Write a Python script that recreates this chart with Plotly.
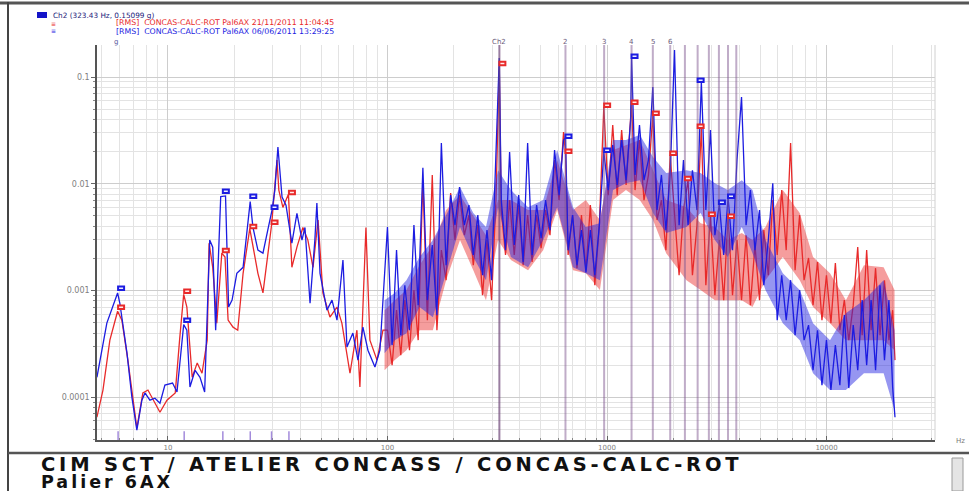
import plotly.graph_objects as go
import numpy as np

# ---------------- data ----------------
freq_blue_low = [4.75, 5.27, 5.9, 6.04, 6.51, 6.85, 7.22, 7.61, 7.86, 8.28, 8.73, 9.2, 9.69, 10.5, 11.0,
                 11.8, 12.2, 12.6, 13.3, 14.0, 14.7, 15.1, 15.5, 16.0, 16.5, 17.4, 18.3, 18.9, 19.6, 20.6,
                 22.0, 23.7, 24.4, 25.7, 27.1, 28.5, 29.8, 30.7, 31.7, 33.1, 34.5, 36.7, 38.7, 40.8, 42.1,
                 44.4, 46.7, 47.7, 49.3, 53.0, 55.9, 58.9, 62.7, 65.4, 69.6, 73.4, 77.3, 81.5, 87.7, 92.4]
amp_blue_low = [0.000154, 0.000495, 0.00095, 0.00076, 0.000259, 0.000101, 0.0000492, 0.000094, 0.00011, 0.000094,
                0.000098, 0.000088, 0.00013, 0.000136, 0.000112, 0.00048, 0.000425, 0.000125, 0.000179, 0.000154,
                0.000112, 0.000495, 0.00297, 0.00255, 0.000425, 0.0076, 0.0077, 0.0007, 0.000813, 0.00145,
                0.00165, 0.0068, 0.0039, 0.00239, 0.00224, 0.00368, 0.00567, 0.00873, 0.0221, 0.0075,
                0.0063, 0.00278, 0.00528, 0.00297, 0.0039, 0.00076, 0.00297, 0.0066, 0.00145, 0.000655,
                0.000813, 0.000528, 0.00193, 0.000296, 0.0004, 0.000223, 0.000454, 0.000276, 0.000192, 0.000276]

freq_red_low = [4.75, 5.06, 5.44, 5.9, 6.17, 6.57, 7.22, 7.69, 8.11, 8.73, 9.2, 9.9, 10.8, 11.3, 11.8,
                12.2, 12.9, 13.6, 14.3, 15.1, 15.4, 16.0, 16.7, 17.6, 18.2, 18.8, 19.8, 20.8, 22.0, 23.6,
                24.4, 25.7, 27.1, 28.5, 29.7, 31.4, 32.0, 33.4, 35.4, 36.7, 38.7, 41.2, 43.4, 45.8, 48.3,
                50.8, 54.7, 58.9, 62.0, 67.5, 72.6, 74.9, 79.8, 83.2, 89.6, 95.4]
amp_red_low = [0.0000651, 0.000117, 0.000343, 0.00064, 0.000528, 0.000223, 0.0000514, 0.00011, 0.000117, 0.000088,
               0.0000725, 0.000094, 0.00011, 0.000343, 0.00092, 0.0007, 0.000154, 0.00021, 0.000168, 0.000343,
               0.00278, 0.00165, 0.000495, 0.00224, 0.00206, 0.000528, 0.000454, 0.000425, 0.00145, 0.0038,
               0.00255, 0.00145, 0.00095, 0.00224, 0.0042, 0.0167, 0.00873, 0.006, 0.008, 0.00165,
               0.00255, 0.0039, 0.00297, 0.00165, 0.00457, 0.00095, 0.000565, 0.0007, 0.000495, 0.000168,
               0.000425, 0.000125, 0.0039, 0.000343, 0.000223, 0.000425]

freq_high = [100, 105, 110, 115, 120, 126, 132, 138, 145, 152, 160, 168, 176, 185, 194, 203, 213, 224, 235, 246,
             258, 271, 284, 298, 312, 323, 330, 345, 360, 378, 396, 415, 435, 456, 478, 501, 525, 550, 577, 605,
             634, 647, 665, 697, 730, 765, 802, 840, 880, 923, 967, 1013, 1062, 1113, 1166, 1222, 1281, 1294, 1342, 1406,
             1474, 1545, 1617, 1690, 1770, 1855, 1940, 2030, 2130, 2230, 2340, 2450, 2570, 2690, 2820, 2960, 3100, 3250, 3400, 3560,
             3730, 3910, 4100, 4300, 4500, 4720, 4950, 5180, 5430, 5690, 5960, 6250, 6550, 6860, 7190, 7540, 7900, 8280, 8680, 9100,
             9530, 9990, 10470, 10970, 11500, 12050, 12630, 13230, 13870, 14530, 15230, 15960, 16720, 17520, 18360, 19240, 20000, 20500]
amp_blue_high = [0.00393, 0.000308, 0.00239, 0.000382, 0.00112, 0.000425, 0.0041, 0.00073, 0.0141, 0.000813,
                 0.00267, 0.000588, 0.0241, 0.00173, 0.00783, 0.0041, 0.00932, 0.0041, 0.00631, 0.00215,
                 0.00509, 0.00139, 0.00368, 0.00125, 0.0167, 0.151, 0.00703, 0.00239, 0.0198, 0.00267,
                 0.00783, 0.00185, 0.0241, 0.00215, 0.00631, 0.00309, 0.00703, 0.00368, 0.0207, 0.00783,
                 0.0257, 0.0268, 0.00239, 0.00509, 0.00173, 0.00368, 0.00148, 0.00368, 0.00139, 0.0041,
                 0.0198, 0.00873, 0.0231, 0.00973, 0.0257, 0.0108, 0.0395, 0.15, 0.0121, 0.0355,
                 0.0108, 0.0167, 0.0806, 0.00567, 0.0121, 0.00368, 0.0121, 0.179, 0.0041, 0.0167,
                 0.0041, 0.0134, 0.00567, 0.0897, 0.00567, 0.0319, 0.0033, 0.00645, 0.00215, 0.00734,
                 0.00239, 0.0167, 0.0649, 0.0041, 0.00873, 0.00239, 0.00567, 0.00112, 0.00297, 0.0101,
                 0.000528, 0.00139, 0.000528, 0.00125, 0.000382, 0.00101, 0.000343, 0.000474, 0.000179, 0.000425,
                 0.00013, 0.000343, 0.000117, 0.000308, 0.00013, 0.000588, 0.000122, 0.000474, 0.000179, 0.000813,
                 0.0002, 0.000813, 0.000179, 0.00112, 0.000223, 0.000813, 0.000125, 0.0000651]
amp_red_high = [0.000425, 0.0002, 0.000655, 0.000248, 0.000813, 0.000276, 0.00101, 0.000343, 0.0108, 0.000528,
                0.0121, 0.000425, 0.00239, 0.00125, 0.00818, 0.00297, 0.00783, 0.0033, 0.00509, 0.00173,
                0.0041, 0.000906, 0.00297, 0.000813, 0.00703, 0.125, 0.00567, 0.00215, 0.00703, 0.00215,
                0.00631, 0.00173, 0.00509, 0.00185, 0.00509, 0.0025, 0.00567, 0.0033, 0.0167, 0.00703,
                0.0305, 0.0194, 0.00215, 0.00509, 0.00162, 0.00509, 0.00155, 0.00631, 0.00112, 0.0041,
                0.0524, 0.00783, 0.0355, 0.00783, 0.0319, 0.00973, 0.0355, 0.0559, 0.00873, 0.0257,
                0.00703, 0.0121, 0.0441, 0.00457, 0.00703, 0.00239, 0.0186, 0.00567, 0.00139, 0.00567,
                0.0108, 0.00139, 0.0041, 0.0333, 0.00112, 0.00498, 0.000906, 0.00297, 0.000813, 0.00498,
                0.000906, 0.00297, 0.000813, 0.0033, 0.00073, 0.00267, 0.000813, 0.00368, 0.00139, 0.00703,
                0.00215, 0.00873, 0.00239, 0.0241, 0.00155, 0.00509, 0.00125, 0.00202, 0.00073, 0.00185,
                0.000528, 0.00139, 0.000495, 0.00181, 0.000425, 0.000813, 0.000343, 0.00073, 0.00256, 0.000382,
                0.00239, 0.000425, 0.00162, 0.000382, 0.00125, 0.000343, 0.000655, 0.000223]

# dense noise band (core of the spectrum, upper / lower edge)
band_freq = [97, 108, 122, 140, 161, 185, 214, 246, 281, 319, 365, 437, 512, 593, 700, 801, 928, 1065, 1220,
             1410, 1620, 1860, 2300, 2670, 3100, 3550, 4110, 4600, 5270, 6320, 7550, 8680, 10370, 12250,
             14800, 18200, 20400]
band_blue_top = [0.000813, 0.000947, 0.00125, 0.00206, 0.00297, 0.00509, 0.00932, 0.00532, 0.00393, 0.0134,
                 0.00873, 0.00604, 0.00703, 0.0207, 0.00604, 0.00393, 0.00428, 0.0257, 0.0257, 0.0286,
                 0.0178, 0.0126, 0.0134, 0.0126, 0.0101, 0.00873, 0.0108, 0.00873, 0.00297, 0.00145,
                 0.00101, 0.000495, 0.000343, 0.000613, 0.000813, 0.00125, 0.000425]
band_blue_bot = [0.000259, 0.000343, 0.000399, 0.0007, 0.000563, 0.00145, 0.00393, 0.00206, 0.00125, 0.00604,
                 0.00206, 0.00165, 0.00297, 0.00604, 0.00165, 0.00145, 0.00125, 0.00873, 0.0101, 0.0108,
                 0.00532, 0.00345, 0.00393, 0.00532, 0.00297, 0.00206, 0.00393, 0.00224, 0.00101, 0.000495,
                 0.000343, 0.000168, 0.000117, 0.000117, 0.000168, 0.000168, 0.0000757]
band_red_top = [0.000655, 0.000813, 0.00101, 0.00173, 0.00267, 0.00567, 0.00783, 0.00509, 0.0033, 0.00703,
                0.00703, 0.00567, 0.00567, 0.0167, 0.00567, 0.00703, 0.00457, 0.0207, 0.0231, 0.0257,
                0.0134, 0.00703, 0.00604, 0.00428, 0.00393, 0.00297, 0.00345, 0.00297, 0.00393, 0.00873,
                0.00532, 0.00206, 0.00145, 0.000813, 0.00173, 0.00165, 0.00101]
band_red_bot = [0.000179, 0.000223, 0.000276, 0.000425, 0.000425, 0.00125, 0.00297, 0.00155, 0.000813, 0.00297,
                0.00193, 0.00155, 0.00239, 0.00567, 0.00155, 0.00145, 0.00101, 0.00703, 0.00873, 0.00703,
                0.00457, 0.00224, 0.00125, 0.00101, 0.000813, 0.000813, 0.000813, 0.000701, 0.00125, 0.00206,
                0.00125, 0.000701, 0.000495, 0.000343, 0.000343, 0.000343, 0.000276]

# peak markers
blue_mark_freq = [5.93, 11.86, 17.79, 23.72, 29.65, 646.9, 970.3, 1293.7, 2587, 3234, 3558]
blue_mark_amp = [0.00101, 0.000506, 0.00818, 0.00734, 0.00579, 0.0268, 0.0198, 0.151, 0.0897, 0.00645, 0.00734]
red_mark_freq = [5.93, 11.86, 17.79, 23.72, 29.65, 35.58, 323.43, 646.9, 970.3, 1293.7, 1617.2, 1940.6,
                 2264, 2587, 2911, 3558]
red_mark_amp = [0.00067, 0.00095, 0.00229, 0.00384, 0.0042, 0.008, 0.129, 0.0194, 0.0524, 0.0559, 0.0441,
                0.0186, 0.0108, 0.0333, 0.00498, 0.00477]

# harmonic cursors
cursor_fund = 323.43
cursor_orders = [1, 2, 3, 4, 5, 6, 7, 8, 9, 10, 11, 12]
cursor_labels = ["Ch2", "2", "3", "4", "5", "6", "", "", "", "", "", ""]
low_fund = 5.93
low_orders = [1, 2, 3, 4, 5, 6]

x_tick_vals = [10, 100, 1000, 10000]
x_tick_text = ["10", "100", "1000", "10000"]
y_tick_vals = [0.0001, 0.001, 0.01, 0.1]
y_tick_text = ["0.0001", "0.001", "0.01", "0.1"]

legend_head = "Ch2 (323.43 Hz, 0.15099 g)"
legend_red = "[RMS]  CONCAS-CALC-ROT Pal6AX 21/11/2011 11:04:45"
legend_blue = "[RMS]  CONCAS-CALC-ROT Pal6AX 06/06/2011 13:29:25"
title_1 = "CIM SCT / ATELIER CONCASS / CONCAS-CALC-ROT"
title_2 = "Palier 6AX"

# ---------------- layout helpers ----------------
W, H = 969, 491
ML, MR, MT, MB = 97, 34, 45, 51
PW = W - ML - MR
PH = H - MT - MB


def px(X):
    return (X - ML) / PW


def py(Y):
    return (H - MB - Y) / PH


BLUE = "rgb(28,28,225)"
RED = "rgb(232,42,42)"

fig = go.Figure()
fig.add_trace(go.Scatter(x=band_freq + band_freq[::-1], y=band_red_top + band_red_bot[::-1], mode="lines",
                         fill="toself", fillcolor="rgba(235,50,50,0.48)", line=dict(width=0),
                         hoverinfo="skip", showlegend=False))
fig.add_trace(go.Scatter(x=freq_red_low + freq_high, y=amp_red_low + amp_red_high, mode="lines",
                         line=dict(color=RED, width=1.3), hoverinfo="skip", showlegend=False))
fig.add_trace(go.Scatter(x=band_freq + band_freq[::-1], y=band_blue_top + band_blue_bot[::-1], mode="lines",
                         fill="toself", fillcolor="rgba(35,35,225,0.48)", line=dict(width=0),
                         hoverinfo="skip", showlegend=False))
fig.add_trace(go.Scatter(x=freq_blue_low + freq_high, y=amp_blue_low + amp_blue_high, mode="lines",
                         line=dict(color=BLUE, width=1.3), hoverinfo="skip", showlegend=False))

shapes = []
annotations = []

# harmonic cursor lines
for k, lab in zip(cursor_orders, cursor_labels):
    f = cursor_fund * k
    shapes.append(dict(type="line", xref="x", yref="paper", x0=f, x1=f, y0=0, y1=1, layer="above",
                       line=dict(color="rgba(130,90,145,0.5)" if k > 1 else "rgba(110,70,120,0.7)", width=2)))
    if lab:
        annotations.append(dict(x=np.log10(f), y=py(42), xref="x", yref="paper", text=lab, showarrow=False,
                                font=dict(size=7, color="#6a5a7a", family="DejaVu Sans"), yanchor="middle"))
for k in low_orders:
    f = low_fund * k
    shapes.append(dict(type="line", xref="x", yref="paper", x0=f, x1=f, y0=0, y1=0.022, layer="above",
                       line=dict(color="rgba(140,110,210,0.8)", width=1.5)))

# peak markers
for f, a in zip(red_mark_freq, red_mark_amp):
    shapes.append(dict(type="rect", xref="x", yref="y", xsizemode="pixel", ysizemode="pixel",
                       xanchor=f, yanchor=a, x0=-6, x1=6, y0=-3.5, y1=3.5, layer="above",
                       fillcolor="rgba(255,235,235,1)", line=dict(color=RED, width=2)))
for f, a in zip(blue_mark_freq, blue_mark_amp):
    shapes.append(dict(type="rect", xref="x", yref="y", xsizemode="pixel", ysizemode="pixel",
                       xanchor=f, yanchor=a, x0=-6, x1=6, y0=-3.5, y1=3.5, layer="above",
                       fillcolor="rgba(235,235,255,1)", line=dict(color=BLUE, width=2)))

# frame / window decorations
shapes.append(dict(type="line", xref="paper", yref="paper", x0=px(0), x1=px(W), y0=py(3), y1=py(3),
                   line=dict(color="#555555", width=3)))
shapes.append(dict(type="line", xref="paper", yref="paper", x0=px(8), x1=px(8), y0=py(2), y1=py(H),
                   line=dict(color="#444444", width=2)))
shapes.append(dict(type="line", xref="paper", yref="paper", x0=px(8), x1=px(W), y0=py(453), y1=py(453),
                   line=dict(color="#555555", width=2.5)))
shapes.append(dict(type="line", xref="paper", yref="paper", x0=1, x1=1, y0=0, y1=1,
                   line=dict(color="#d0d0d0", width=1)))
shapes.append(dict(type="rect", xref="paper", yref="paper", x0=px(952), x1=px(963), y0=py(458), y1=py(H),
                   fillcolor="#e4e4e4", line=dict(color="#9a9a9a", width=1)))
# legend swatch
shapes.append(dict(type="rect", xref="paper", yref="paper", x0=px(37), x1=px(47), y0=py(18), y1=py(12),
                   fillcolor="rgb(20,20,200)", line=dict(width=0)))

title_html = ('<span style="font-size:19.5px;letter-spacing:3.8px">' + title_1 + '</span><br>'
              '<span style="font-size:17.5px;letter-spacing:3px">' + title_2 + '</span>')

annotations += [
    dict(x=px(51), y=py(15), xref="paper", yref="paper", text=legend_head, showarrow=False,
         xanchor="left", yanchor="middle", font=dict(size=7.3, color="#22227a", family="DejaVu Sans")),
    dict(x=px(53), y=py(23.5), xref="paper", yref="paper", text="≡", showarrow=False,
         xanchor="center", yanchor="middle", font=dict(size=6, color=RED, family="DejaVu Sans")),
    dict(x=px(53), y=py(30.5), xref="paper", yref="paper", text="≡", showarrow=False,
         xanchor="center", yanchor="middle", font=dict(size=6, color=BLUE, family="DejaVu Sans")),
    dict(x=px(114), y=py(23), xref="paper", yref="paper", text=legend_red, showarrow=False,
         xanchor="left", yanchor="middle", font=dict(size=7.8, color=RED, family="DejaVu Sans")),
    dict(x=px(114), y=py(31.5), xref="paper", yref="paper", text=legend_blue, showarrow=False,
         xanchor="left", yanchor="middle", font=dict(size=7.8, color=BLUE, family="DejaVu Sans")),
    dict(x=px(112), y=py(42), xref="paper", yref="paper", text="g", showarrow=False,
         xanchor="left", yanchor="middle", font=dict(size=7, color="#5a5aa0", family="DejaVu Sans")),
    dict(x=px(954), y=py(441), xref="paper", yref="paper", text="Hz", showarrow=False,
         xanchor="left", yanchor="middle", font=dict(size=7, color="#777777", family="DejaVu Sans")),
    dict(x=px(39), y=py(472), xref="paper", yref="paper", text=title_html, showarrow=False,
         xanchor="left", yanchor="middle", align="left",
         font=dict(size=13, color="#111111", family="DejaVu Sans", weight="bold")),
]

minor_x = [m * 10 ** e for e in range(0, 5) for m in range(2, 10)]
minor_y = [m * 10 ** e for e in range(-5, 0) for m in range(2, 10)]

fig.update_layout(
    width=W, height=H,
    margin=dict(l=ML, r=MR, t=MT, b=MB, pad=0),
    paper_bgcolor="white", plot_bgcolor="white",
    showlegend=False,
    shapes=shapes, annotations=annotations,
    xaxis=dict(type="log", range=[0.677, 4.494], tickvals=x_tick_vals, ticktext=x_tick_text,
               showgrid=True, gridcolor="#cdcdcd", gridwidth=1, zeroline=False,
               ticks="inside", ticklen=4, tickcolor="#666", showline=True, linecolor="#555", linewidth=1.5,
               tickfont=dict(size=7, color="#808080", family="DejaVu Sans"),
               minor=dict(tickvals=minor_x, showgrid=True, gridcolor="#e3e3e3", ticks="inside",
                          ticklen=2, tickcolor="#888")),
    yaxis=dict(type="log", range=[-4.40, -0.70], tickvals=y_tick_vals, ticktext=y_tick_text,
               showgrid=True, gridcolor="#cdcdcd", gridwidth=1, zeroline=False,
               ticks="outside", ticklen=4, tickcolor="#666", showline=True, linecolor="#555", linewidth=1.5,
               tickfont=dict(size=8, color="#808080", family="DejaVu Sans"),
               minor=dict(tickvals=minor_y, showgrid=True, gridcolor="#e3e3e3", ticks="outside",
                          ticklen=2, tickcolor="#888")),
)

fig.write_html("out.html")
